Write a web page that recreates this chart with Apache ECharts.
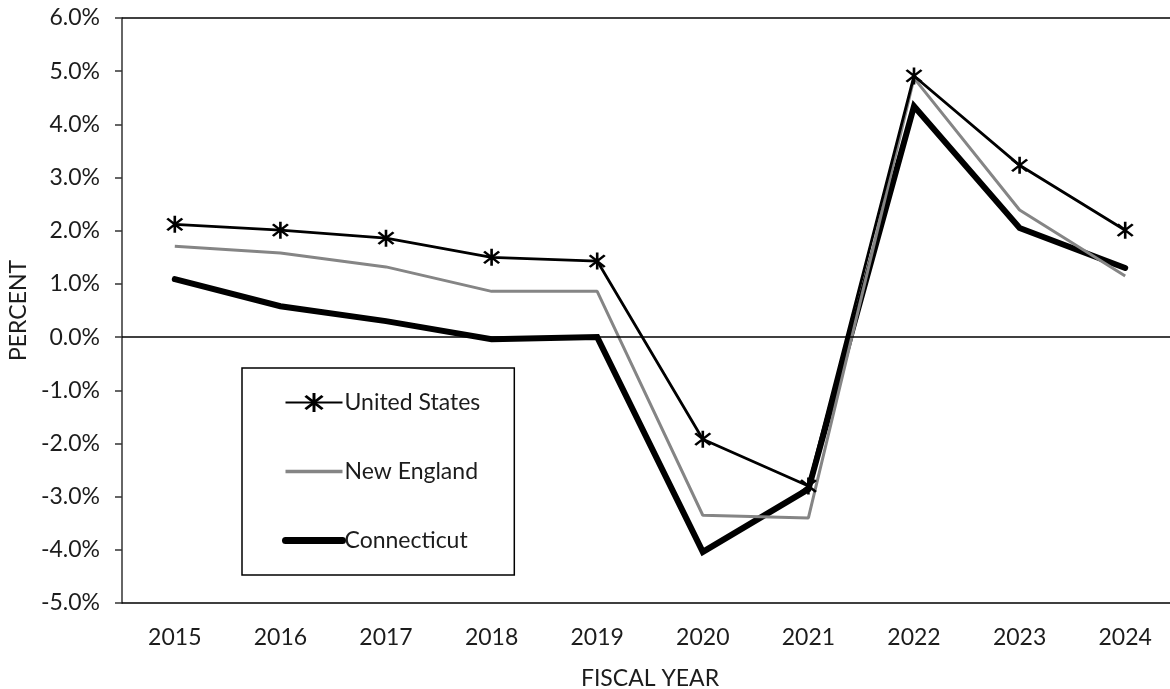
<!DOCTYPE html>
<html>
<head>
<meta charset="utf-8">
<title>Annual change by fiscal year</title>
<script src="https://cdn.jsdelivr.net/npm/echarts@6/dist/echarts.min.js"></script>
<style>
  html, body { margin: 0; padding: 0; background: #fff; }
  #chart { width: 1170px; height: 689px; }
</style>
</head>
<body>
<div id="chart"></div>
<script>
// Fiscal years along the horizontal axis
const years = ['2015', '2016', '2017', '2018', '2019', '2020', '2021', '2022', '2023', '2024'];

// Annual percent change for each region
const unitedStates = [2.12, 2.01, 1.86, 1.50, 1.43, -1.92, -2.80, 4.91, 3.23, 2.01];
const newEngland   = [1.71, 1.58, 1.32, 0.86, 0.86, -3.35, -3.40, 4.87, 2.39, 1.15];
const connecticut  = [1.09, 0.58, 0.30, -0.04, 0.00, -4.04, -2.86, 4.34, 2.05, 1.30];

// Vertical axis range and step (percent)
const yMin = -5;
const yMax = 6;
const yStep = 1;

// Asterisk marker: a vertical bar plus two diagonals
const asterisk = 'path://M8.8,0 L11.2,0 L11.2,20 L8.8,20 Z ' +
  'M2.2,4 L4,2.2 L17.8,16 L16,17.8 Z ' +
  'M16,2.2 L17.8,4 L4,17.8 L2.2,16 Z';

const FONT = 'Lato, "Open Sans", sans-serif';
const TEXT = '#1c1c1c';

const chart = echarts.init(document.getElementById('chart'), null, { renderer: 'canvas' });

chart.setOption({
  animation: false,
  backgroundColor: '#fff',
  textStyle: { fontFamily: FONT },
  grid: {
    left: 122, top: 18, width: 1056, height: 585,
    containLabel: false,
    outerBoundsMode: 'none'
  },
  legend: {
    orient: 'vertical',
    left: 242,
    top: 368,
    padding: [23, 34, 23, 40],
    itemWidth: 57,
    itemHeight: 24,
    itemGap: 46,
    backgroundColor: '#fff',
    borderColor: '#000',
    borderWidth: 1.5,
    borderRadius: 0,
    textStyle: { fontFamily: FONT, fontSize: 23, color: TEXT, padding: [0, 0, 0, -3] },
    data: [
      { name: 'United States' },
      { name: 'New England', itemStyle: { opacity: 0 }, lineStyle: { width: 3.5 } },
      { name: 'Connecticut', itemStyle: { opacity: 0 }, lineStyle: { width: 7, cap: 'round' } }
    ]
  },
  xAxis: {
    type: 'category',
    data: years,
    boundaryGap: true,
    name: 'FISCAL YEAR',
    nameLocation: 'middle',
    nameGap: 64,
    nameTextStyle: { fontFamily: FONT, fontSize: 23, color: TEXT },
    axisLine: { onZero: false, lineStyle: { color: '#000', width: 1.5 } },
    axisTick: { show: false },
    axisLabel: { margin: 23, fontFamily: FONT, fontSize: 23, color: TEXT },
    splitLine: { show: false }
  },
  yAxis: {
    type: 'value',
    min: yMin,
    max: yMax,
    interval: yStep,
    name: 'PERCENT',
    nameLocation: 'middle',
    nameGap: 86,
    nameRotate: 90,
    nameTextStyle: { fontFamily: FONT, fontSize: 23, color: TEXT },
    axisLine: { show: true, lineStyle: { color: '#333', width: 1.5 } },
    axisTick: { show: true, length: 7, lineStyle: { color: '#333', width: 1.5 } },
    axisLabel: {
      margin: 22,
      fontFamily: FONT,
      fontSize: 23,
      color: TEXT,
      formatter: v => v.toFixed(1) + '%'
    },
    splitLine: { show: false }
  },
  series: [
    {
      name: 'Connecticut',
      type: 'line',
      data: connecticut,
      z: 3,
      symbol: 'none',
      lineStyle: { color: '#000', width: 6, cap: 'round', join: 'miter' },
      itemStyle: { color: '#000' },
      markLine: {
        silent: true,
        symbol: 'none',
        label: { show: false },
        lineStyle: { color: '#000', width: 1.5, type: 'solid' },
        data: [{ yAxis: 0 }, { yAxis: yMax }]
      }
    },
    {
      name: 'New England',
      type: 'line',
      data: newEngland,
      z: 4,
      symbol: 'none',
      lineStyle: { color: '#858585', width: 3 },
      itemStyle: { color: '#858585' }
    },
    {
      name: 'United States',
      type: 'line',
      data: unitedStates,
      z: 5,
      symbol: asterisk,
      symbolSize: 17,
      showAllSymbol: true,
      lineStyle: { color: '#000', width: 2.8 },
      itemStyle: { color: '#000' }
    }
  ]
});
</script>
</body>
</html>
